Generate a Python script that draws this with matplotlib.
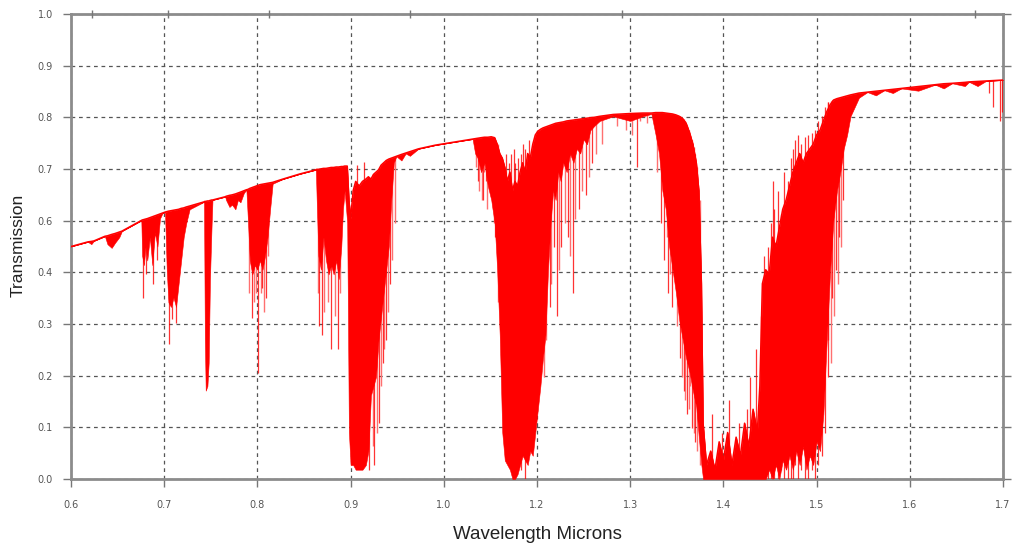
import matplotlib.pyplot as plt

# spectrum envelope: wavelength (microns), top of trace, bottom of trace
wl = [0.600, 0.620, 0.624, 0.627, 0.640, 0.643, 0.648, 0.652, 0.657, 0.660, 0.683,
      0.684, 0.686, 0.688, 0.690, 0.693, 0.696, 0.699, 0.702, 0.705, 0.708,
      0.711, 0.713, 0.715, 0.718, 0.721, 0.724, 0.727, 0.730, 0.733, 0.736, 0.740,
      0.757, 0.758, 0.759, 0.761, 0.7625, 0.764, 0.766, 0.767,
      0.782, 0.783, 0.787, 0.790, 0.794, 0.797, 0.800, 0.804, 0.807,
      0.809, 0.811, 0.814, 0.817, 0.820, 0.823, 0.826, 0.829, 0.832, 0.835, 0.838,
      0.850, 0.870, 0.889,
      0.890, 0.892, 0.895, 0.898, 0.901, 0.904, 0.907, 0.910, 0.913, 0.916, 0.919, 0.921, 0.923, 0.926,
      0.928, 0.930, 0.933, 0.936, 0.940, 0.944, 0.948, 0.951, 0.954, 0.957, 0.960, 0.963, 0.966,
      0.969, 0.972, 0.975, 0.978, 0.981, 0.984,
      0.990, 0.995, 1.000, 1.010, 1.030, 1.050, 1.074,
      1.077, 1.080, 1.084, 1.088, 1.092, 1.096, 1.100, 1.103, 1.106, 1.109, 1.112, 1.115, 1.118,
      1.121, 1.124, 1.127, 1.130, 1.133, 1.136, 1.139, 1.142, 1.145, 1.148, 1.151, 1.154, 1.157,
      1.160, 1.163, 1.166, 1.169, 1.172, 1.175, 1.178, 1.181, 1.185, 1.189, 1.193, 1.197, 1.201,
      1.205, 1.209, 1.213, 1.218, 1.224, 1.232,
      1.240, 1.250, 1.260, 1.275, 1.285,
      1.290, 1.294, 1.298, 1.302, 1.306, 1.310, 1.314, 1.318, 1.322, 1.326, 1.330, 1.334, 1.338,
      1.341, 1.344, 1.346,
      1.350, 1.355, 1.360, 1.365, 1.370, 1.375, 1.380, 1.385, 1.390, 1.395, 1.400, 1.405, 1.410, 1.413,
      1.416, 1.420, 1.424, 1.428, 1.432, 1.436, 1.440, 1.444, 1.448, 1.452, 1.456, 1.460, 1.464,
      1.468, 1.472, 1.476, 1.480, 1.484, 1.488, 1.492, 1.496, 1.500, 1.504, 1.508, 1.512, 1.516,
      1.520, 1.525, 1.530,
      1.540, 1.550, 1.560, 1.570, 1.580, 1.600, 1.620, 1.630, 1.640, 1.655, 1.660, 1.670, 1.680,
      1.690, 1.700]
top = [0.500, 0.510, 0.511, 0.512, 0.522, 0.523, 0.526, 0.528, 0.531, 0.533, 0.556,
       0.557, 0.558, 0.559, 0.560, 0.562, 0.564, 0.566, 0.568, 0.570, 0.572,
       0.574, 0.575, 0.576, 0.577, 0.578, 0.579, 0.580, 0.582, 0.583, 0.585, 0.587,
       0.596, 0.597, 0.597, 0.598, 0.598, 0.599, 0.600, 0.600,
       0.607, 0.608, 0.610, 0.611, 0.613, 0.615, 0.617, 0.620, 0.622,
       0.623, 0.625, 0.627, 0.629, 0.631, 0.633, 0.634, 0.635, 0.636, 0.637, 0.638,
       0.645, 0.656, 0.665,
       0.666, 0.666, 0.667, 0.668, 0.668, 0.669, 0.670, 0.670, 0.671, 0.671, 0.672, 0.672, 0.673, 0.673,
       0.600, 0.560, 0.620, 0.640, 0.630, 0.640, 0.645, 0.650, 0.645, 0.655, 0.660, 0.665, 0.675,
       0.680, 0.685, 0.688, 0.690, 0.692, 0.694,
       0.698, 0.701, 0.704, 0.710, 0.718, 0.724, 0.731,
       0.732, 0.733, 0.734, 0.735, 0.735, 0.736, 0.734, 0.720, 0.700, 0.690, 0.670, 0.640, 0.660,
       0.620, 0.640, 0.630, 0.660, 0.680, 0.660, 0.700, 0.690, 0.720, 0.740, 0.748, 0.752, 0.755,
       0.757, 0.759, 0.761, 0.763, 0.765, 0.766, 0.767, 0.768, 0.770, 0.771, 0.772, 0.773, 0.774,
       0.775, 0.776, 0.777, 0.778, 0.780, 0.782,
       0.784, 0.785, 0.786, 0.787, 0.787,
       0.788, 0.788, 0.788, 0.787, 0.786, 0.785, 0.783, 0.780, 0.775, 0.765, 0.745, 0.720, 0.680,
       0.620, 0.420, 0.120,
       0.030, 0.060, 0.020, 0.080, 0.040, 0.100, 0.030, 0.090, 0.050, 0.120, 0.070, 0.150, 0.100, 0.200,
       0.420, 0.450, 0.440, 0.520, 0.500, 0.540, 0.580, 0.600, 0.630, 0.660, 0.680, 0.700, 0.680,
       0.700, 0.710, 0.720, 0.740, 0.750, 0.770, 0.790, 0.805, 0.815, 0.818, 0.820, 0.822, 0.824,
       0.826, 0.828, 0.830,
       0.832, 0.834, 0.836, 0.838, 0.840, 0.844, 0.848, 0.850, 0.851, 0.853, 0.854, 0.855, 0.856,
       0.857, 0.858]
bottom = [0.500, 0.510, 0.505, 0.512, 0.522, 0.505, 0.497, 0.508, 0.520, 0.533, 0.556,
          0.480, 0.460, 0.500, 0.470, 0.520, 0.460, 0.530, 0.500, 0.560, 0.572,
          0.574, 0.450, 0.380, 0.370, 0.390, 0.370, 0.420, 0.470, 0.520, 0.550, 0.580,
          0.596, 0.300, 0.190, 0.200, 0.250, 0.430, 0.550, 0.600,
          0.607, 0.600, 0.585, 0.590, 0.580, 0.600, 0.595, 0.615, 0.622,
          0.550, 0.470, 0.440, 0.460, 0.450, 0.470, 0.450, 0.480, 0.520, 0.580, 0.635,
          0.645, 0.656, 0.665,
          0.600, 0.480, 0.450, 0.520, 0.470, 0.440, 0.460, 0.440, 0.470, 0.430, 0.500, 0.580, 0.620, 0.550,
          0.100, 0.030, 0.030, 0.020, 0.020, 0.020, 0.030, 0.060, 0.180, 0.200, 0.220, 0.300, 0.350,
          0.400, 0.450, 0.500, 0.600, 0.680, 0.694,
          0.685, 0.700, 0.695, 0.710, 0.718, 0.724, 0.731,
          0.700, 0.690, 0.660, 0.680, 0.630, 0.600, 0.550, 0.450, 0.310, 0.100, 0.040, 0.030, 0.020,
          0.000, 0.000, 0.010, 0.030, 0.050, 0.040, 0.030, 0.060, 0.050, 0.100, 0.150, 0.200, 0.260,
          0.310, 0.450, 0.550, 0.620, 0.600, 0.660, 0.640, 0.680, 0.660, 0.700, 0.680, 0.710, 0.700,
          0.730, 0.720, 0.750, 0.760, 0.770, 0.775,
          0.780, 0.775, 0.770, 0.780, 0.785,
          0.740, 0.700, 0.620, 0.580, 0.500, 0.450, 0.400, 0.340, 0.300, 0.260, 0.230, 0.190, 0.155,
          0.090, 0.030, 0.000,
          0.000, 0.000, 0.000, 0.000, 0.000, 0.000, 0.000, 0.000, 0.000, 0.000, 0.000, 0.000, 0.000, 0.000,
          0.000, 0.000, 0.020, 0.000, 0.030, 0.000, 0.040, 0.020, 0.050, 0.020, 0.060, 0.030, 0.070,
          0.020, 0.050, 0.030, 0.080, 0.060, 0.140, 0.300, 0.450, 0.560, 0.620, 0.660, 0.710, 0.740,
          0.780, 0.800, 0.820,
          0.832, 0.825, 0.836, 0.830, 0.840, 0.835, 0.848, 0.840, 0.851, 0.845, 0.854, 0.845, 0.856,
          0.857, 0.858]

# single deep absorption lines: wavelength, top, bottom
spike_wl = [0.6845, 0.689, 0.697, 0.701, 0.716, 0.7195, 0.7245, 0.8135, 0.821, 0.8255, 0.830,
            0.893, 0.8965, 0.907, 0.9155, 0.952, 0.958, 0.9635, 0.968, 0.972, 0.977,
            1.080, 1.086, 1.090, 1.098, 1.101, 1.119, 1.124, 1.131, 1.136, 1.165, 1.170, 1.174,
            1.178, 1.186, 1.192, 1.200, 1.208, 1.215, 1.268,
            1.296, 1.300, 1.305, 1.309, 1.312, 1.319, 1.323, 1.327, 1.333, 1.337,
            1.357, 1.368, 1.377, 1.388, 1.3975, 1.401, 1.409,
            1.4225, 1.4285, 1.452, 1.478, 1.490, 1.494, 1.498, 1.503, 1.507, 1.511,
            1.684, 1.688, 1.6965, 1.699,
            0.938, 0.946, 1.113, 1.117, 1.123, 1.128, 1.134, 1.140,
            1.414, 1.418, 1.426, 1.430, 1.434, 1.438, 1.442, 1.446, 1.450, 1.454, 1.458, 1.462,
            1.466, 1.470, 1.474, 1.482, 1.486]
spike_top = [0.557, 0.559, 0.565, 0.567, 0.576, 0.577, 0.579, 0.627, 0.631, 0.634, 0.635,
             0.666, 0.667, 0.670, 0.671, 0.645, 0.655, 0.665, 0.680, 0.685, 0.690,
             0.733, 0.734, 0.735, 0.735, 0.730, 0.700, 0.680, 0.700, 0.710, 0.760, 0.763, 0.765,
             0.767, 0.770, 0.772, 0.774, 0.776, 0.777, 0.786,
             0.788, 0.787, 0.786, 0.785, 0.784, 0.780, 0.775, 0.760, 0.730, 0.700,
             0.140, 0.100, 0.170, 0.120, 0.150, 0.220, 0.280,
             0.500, 0.640, 0.710, 0.750, 0.800, 0.810, 0.815, 0.818, 0.820, 0.822,
             0.856, 0.857, 0.858, 0.858,
             0.675, 0.682, 0.700, 0.680, 0.710, 0.690, 0.720, 0.730,
             0.350, 0.480, 0.550, 0.580, 0.620, 0.570, 0.660, 0.640, 0.690, 0.730, 0.740, 0.720,
             0.735, 0.740, 0.745, 0.770, 0.780]
spike_bottom = [0.390, 0.440, 0.420, 0.470, 0.290, 0.345, 0.335, 0.346, 0.228, 0.410, 0.390,
                0.330, 0.310, 0.280, 0.280, 0.020, 0.030, 0.120, 0.250, 0.300, 0.420,
                0.640, 0.600, 0.640, 0.580, 0.520, 0.020, 0.000, 0.020, 0.000, 0.370, 0.500, 0.350,
                0.500, 0.520, 0.400, 0.580, 0.610, 0.680, 0.670,
                0.550, 0.470, 0.400, 0.370, 0.450, 0.260, 0.190, 0.140, 0.110, 0.080,
                0.000, 0.000, 0.000, 0.000, 0.000, 0.000, 0.000,
                0.000, 0.000, 0.000, 0.000, 0.100, 0.220, 0.390, 0.450, 0.520, 0.600,
                0.830, 0.800, 0.770, 0.790,
                0.500, 0.500, 0.300, 0.300, 0.300, 0.300, 0.300, 0.300,
                0.000, 0.000, 0.000, 0.000, 0.000, 0.020, 0.000, 0.000, 0.000, 0.030, 0.000, 0.020,
                0.000, 0.000, 0.020, 0.030, 0.050]

# weaker (lighter) lines
pink_wl = [0.891, 0.899, 0.903, 0.911, 0.918, 0.810, 0.816, 0.8185, 0.824, 0.8275, 0.833,
           0.9565, 0.961, 0.966, 0.970, 0.974, 0.979, 0.982,
           1.078, 1.082, 1.0845, 1.087, 1.091, 1.094, 1.099, 1.104,
           1.158, 1.161, 1.167, 1.176, 1.183, 1.189, 1.195, 1.203, 1.211, 1.220, 1.227,
           1.245, 1.255, 1.262, 1.272, 1.280,
           1.292, 1.303, 1.307, 1.315, 1.321, 1.325, 1.329, 1.331, 1.335, 1.339, 1.342,
           1.493, 1.497, 1.501, 1.505, 1.509]
pink_top = [0.666, 0.668, 0.669, 0.670, 0.672, 0.624, 0.628, 0.630, 0.633, 0.634, 0.636,
            0.655, 0.660, 0.675, 0.680, 0.686, 0.690, 0.692,
            0.732, 0.733, 0.734, 0.734, 0.735, 0.735, 0.735, 0.720,
            0.756, 0.758, 0.762, 0.766, 0.769, 0.771, 0.772, 0.774, 0.776, 0.779, 0.781,
            0.784, 0.785, 0.786, 0.787, 0.787,
            0.788, 0.787, 0.786, 0.783, 0.777, 0.770, 0.750, 0.740, 0.715, 0.670, 0.600,
            0.810, 0.812, 0.815, 0.818, 0.820]
pink_bottom = [0.400, 0.360, 0.380, 0.350, 0.400, 0.400, 0.380, 0.400, 0.400, 0.360, 0.480,
               0.070, 0.100, 0.200, 0.280, 0.360, 0.470, 0.550,
               0.670, 0.620, 0.600, 0.660, 0.580, 0.620, 0.550, 0.380,
               0.220, 0.300, 0.420, 0.450, 0.550, 0.480, 0.560, 0.620, 0.650, 0.700, 0.720,
               0.760, 0.750, 0.740, 0.770, 0.765,
               0.660, 0.520, 0.440, 0.330, 0.220, 0.170, 0.150, 0.200, 0.100, 0.060, 0.030,
               0.300, 0.250, 0.350, 0.420, 0.500]

x_ticks = [0.6, 0.71, 0.82, 0.93, 1.04, 1.15, 1.26, 1.37, 1.48, 1.59, 1.7]
x_labels = ["0.6", "0.7", "0.8", "0.9", "1.0", "1.2", "1.3", "1.4", "1.5", "1.6", "1.7"]
y_ticks = [0.0, 1 / 9, 2 / 9, 3 / 9, 4 / 9, 5 / 9, 6 / 9, 7 / 9, 8 / 9, 1.0]
y_labels = ["0.0", "0.1", "0.2", "0.3", "0.4", "0.6", "0.7", "0.8", "0.9", "1.0"]
top_wavenumbers = [16000, 14000, 12000, 10000, 8000, 6000]

fig = plt.figure(figsize=(10.19, 5.44), dpi=100)
ax = fig.add_axes([71 / 1019, 1 - 479 / 544, 932 / 1019, 465 / 544])

ax.fill_between(wl, bottom, top, color="#ff0000", lw=0.4, zorder=3)
ax.plot(wl, top, color="#ff0000", lw=1.1, zorder=3)
ax.vlines(pink_wl, pink_bottom, pink_top, color="#ff7070", lw=1.0, zorder=2.9)
ax.vlines(spike_wl, spike_bottom, spike_top, color="#ff0000", lw=0.9, alpha=0.8, zorder=3)

ax.set_xlim(0.6, 1.7)
ax.set_ylim(0, 1)
ax.set_xticks(x_ticks)
ax.set_xticklabels(x_labels)
ax.set_yticks(y_ticks)
ax.set_yticklabels(y_labels)

ax.grid(True, ls=(0, (3, 3)), color="#555555", lw=0.9)
ax.set_axisbelow(True)
for s in ax.spines.values():
    s.set_color("#8c8c8c")
    s.set_linewidth(2)
ax.tick_params(axis="both", direction="out", length=6, width=1, color="#777777",
               labelsize=7, labelcolor="#555555")
ax.tick_params(axis="x", pad=9)
ax.tick_params(axis="y", pad=7, right=True)

# wavenumber ticks along the top edge
ax2 = ax.twiny()
ax2.set_xlim(0.6, 1.7)
ax2.set_xticks([1e4 / w for w in top_wavenumbers])
ax2.set_xticklabels([])
ax2.tick_params(axis="x", direction="inout", length=6, width=1, color="#777777")
for s in ax2.spines.values():
    s.set_visible(False)

fig.text(18 / 1019, 1 - 245 / 544, "Transmission", rotation=90, ha="center", va="center",
         fontsize=12.5, family="Liberation Sans", color="#222222")
fig.text(537 / 1019, 1 - 526 / 544, "Wavelength Microns", ha="center", va="top",
         fontsize=13.5, family="Liberation Sans", color="#222222")

fig.savefig("out.png", dpi=100)
